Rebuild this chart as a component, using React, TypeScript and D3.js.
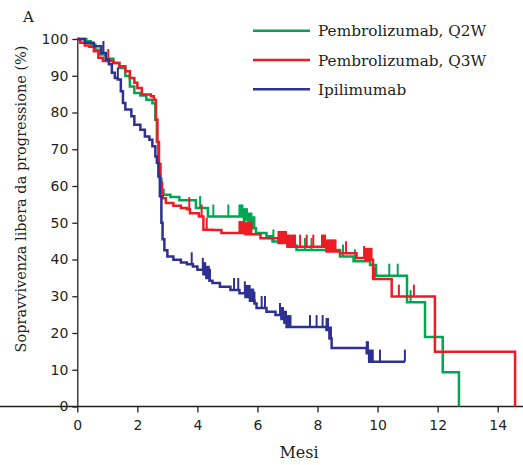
import React, { useEffect, useRef } from 'react';
import * as d3 from 'd3';

// Kaplan-Meier steps: [mese, sopravvivenza %]
const q2wSteps: [number, number][] = [
  [0, 100], [0.3, 99.4], [0.45, 98.5], [0.6, 97.1], [0.75, 95.8], [0.95, 94.6], [1.2, 93.5],
  [1.4, 92.1], [1.6, 89.9], [1.75, 87.1], [1.9, 85.3], [2.1, 84.6], [2.3, 83.5], [2.5, 82.5],
  [2.6, 78], [2.65, 72], [2.7, 66], [2.75, 62], [2.8, 59], [2.87, 57.6], [3.1, 57.0], [3.4, 56.1],
  [3.95, 54.0], [4.35, 51.7], [5.55, 50.7], [5.7, 49.5], [5.85, 48.5], [5.95, 47.2], [6.3, 46.3],
  [6.5, 44.9], [7.0, 43.8], [7.3, 42.6], [8.75, 40.8], [9.2, 39.5], [9.75, 38.5], [9.95, 35.6],
  [10.98, 28.4], [11.58, 18.9], [12.17, 9.3], [12.71, 0],
];
const q3wSteps: [number, number][] = [
  [0, 100], [0.05, 99.7], [0.1, 99.0], [0.25, 98.2], [0.4, 97.9], [0.55, 96.7], [0.7, 94.9],
  [0.85, 94.0], [1.2, 93.5], [1.4, 92.6], [1.6, 91.2], [1.75, 89.4], [1.9, 88.1], [2.0, 86.7],
  [2.15, 84.9], [2.45, 84.4], [2.55, 83.5], [2.62, 78], [2.67, 72], [2.72, 66], [2.77, 61],
  [2.82, 58], [2.85, 56.7], [2.95, 55.4], [3.2, 54.6], [3.45, 54.0], [3.65, 53.7], [3.75, 52.6],
  [4.05, 51.7], [4.2, 48.1], [4.5, 48.0], [4.8, 47.2], [5.6, 46.9], [6.1, 45.8], [6.7, 44.5],
  [7.0, 43.5], [8.3, 42.2], [8.75, 41.7], [9.3, 40.4], [9.6, 39.9], [9.85, 34.7], [10.47, 29.9],
  [11.91, 14.9], [14.58, 0],
];
const ipiSteps: [number, number][] = [
  [0, 100], [0.25, 99], [0.55, 98], [0.8, 96.2], [0.95, 94.4], [1.05, 93.1], [1.15, 90.8],
  [1.25, 89.4], [1.35, 89], [1.45, 85.8], [1.52, 82.6], [1.6, 80.8], [1.8, 79], [1.9, 76.7],
  [2.1, 75.3], [2.25, 73.5], [2.4, 72.6], [2.5, 70.8], [2.6, 68], [2.65, 66.3], [2.7, 62.6],
  [2.75, 57.2], [2.8, 50], [2.84, 45.5], [2.9, 42.5], [3.0, 40.8], [3.2, 39.9], [3.45, 39.2],
  [3.65, 38.7], [3.85, 38.1], [4.0, 37.2], [4.2, 36.0], [4.3, 35.0], [4.4, 34.2], [4.5, 33.6],
  [4.75, 32.6], [5.1, 31.7], [5.4, 30.8], [5.6, 29.8], [5.75, 28.8], [5.9, 28.0], [5.97, 26.8],
  [6.3, 25.8], [6.6, 24.9], [6.8, 23.8], [6.9, 22.8], [6.97, 21.6], [8.3, 20.8], [8.4, 18.5],
  [8.47, 15.9], [9.64, 14.5], [9.72, 12.2],
];

// last follow-up time of each arm
const q2wEnd = 12.71;
const q3wEnd = 14.58;
const ipiEnd = 10.91;

// censored patients (months)
const q2wCensor = [
  4.09, 4.53, 5.03, 5.4, 5.45, 5.5, 5.55, 5.6, 5.65, 5.7, 5.75, 5.8, 5.85, 5.9,
  6.53, 7.58, 7.8, 8.85, 9.25, 10.39, 10.67, 11.1,
];
const q3wCensor = [
  1.03, 3.73, 4.14, 4.31, 5.4, 5.45, 5.5, 5.55, 5.6, 5.65, 5.7, 5.75, 5.8,
  6.7, 6.75, 6.8, 6.85, 6.9, 6.95, 7.0, 7.05, 7.1, 7.15, 7.2, 7.25, 7.42, 7.64, 7.86,
  8.15, 8.2, 8.25, 8.3, 8.35, 8.4, 8.45, 8.5, 8.55, 8.6, 8.95,
  9.55, 9.6, 9.65, 9.7, 9.75, 9.8, 9.85, 9.9, 10.71, 11.21,
];
const ipiCensor = [
  0.87, 1.35, 3.81, 4.18, 4.22, 4.26, 4.3, 4.34, 4.38, 4.42, 5.22, 5.36,
  5.58, 5.62, 5.66, 5.7, 5.74, 5.78, 5.82, 5.86, 5.9, 6.14, 6.25,
  6.75, 6.8, 6.85, 6.9, 6.95, 7.0, 7.05, 7.1, 7.75, 7.97, 8.17,
  8.3, 8.35, 8.4, 8.45, 9.64, 9.68, 9.72, 9.76, 9.8, 9.84, 10.08, 10.91,
];

const seriesNames = ['Pembrolizumab, Q2W', 'Pembrolizumab, Q3W', 'Ipilimumab'];
const seriesColors = ['#00a651', '#ed1c24', '#2e3192'];
const xTicks = [0, 2, 4, 6, 8, 10, 12, 14];
const yTicks = [0, 10, 20, 30, 40, 50, 60, 70, 80, 90, 100];

const W = 523;
const H = 465;
const serif = "'DejaVu Serif', serif";
const sans = "'DejaVu Sans', sans-serif";

function valueAt(steps: [number, number][], t: number) {
  let v = steps[0][1];
  for (const s of steps) {
    if (s[0] <= t) v = s[1];
  }
  return v;
}

export default function App() {
  const ref = useRef<SVGSVGElement>(null);

  useEffect(() => {
    const svg = d3.select(ref.current);
    svg.selectAll('*').remove();

    const x = d3.scaleLinear().domain([0, 14.8]).range([77.3, 521.7]);
    const y = d3.scaleLinear().domain([0, 100]).range([406.5, 39]);

    // axes
    const xAxis = svg.append('g')
      .attr('transform', `translate(0,${y(0)})`)
      .call(d3.axisBottom(x).tickValues(xTicks).tickSize(6).tickPadding(8).tickSizeOuter(0));
    const yAxis = svg.append('g')
      .attr('transform', `translate(${x(0)},0)`)
      .call(d3.axisLeft(y).tickValues(yTicks).tickSize(5).tickPadding(4).tickSizeOuter(0));

    [xAxis, yAxis].forEach((g) => {
      g.selectAll('path, line').attr('stroke', '#231f20').attr('stroke-width', 1.3);
      g.selectAll('text').attr('font-family', sans).attr('font-size', 14).attr('fill', '#231f20');
    });
    xAxis.select('.domain').attr('d', `M${-5},0H${W}`);

    const arms = [
      { steps: q2wSteps, end: q2wEnd, censor: q2wCensor, color: seriesColors[0] },
      { steps: q3wSteps, end: q3wEnd, censor: q3wCensor, color: seriesColors[1] },
      { steps: ipiSteps, end: ipiEnd, censor: ipiCensor, color: seriesColors[2] },
    ];

    const line = d3.line<[number, number]>()
      .x((d) => x(d[0]))
      .y((d) => y(d[1]))
      .curve(d3.curveStepAfter);

    arms.forEach((arm) => {
      const last = arm.steps[arm.steps.length - 1];
      const pts = arm.steps.concat(last[0] < arm.end ? [[arm.end, last[1]] as [number, number]] : []);
      const g = svg.append('g');
      g.append('path')
        .attr('d', line(pts))
        .attr('fill', 'none')
        .attr('stroke', arm.color)
        .attr('stroke-width', 2.5);
      g.selectAll('line')
        .data(arm.censor)
        .enter()
        .append('line')
        .attr('x1', (t) => x(t))
        .attr('x2', (t) => x(t))
        .attr('y1', (t) => y(valueAt(arm.steps, t)))
        .attr('y2', (t) => y(valueAt(arm.steps, t)) - 12)
        .attr('stroke', arm.color)
        .attr('stroke-width', 2);
    });

    // legend
    const legend = svg.append('g');
    seriesNames.forEach((name, i) => {
      const ly = 30.7 + i * 29.3;
      legend.append('line')
        .attr('x1', 253).attr('x2', 310)
        .attr('y1', ly).attr('y2', ly)
        .attr('stroke', seriesColors[i])
        .attr('stroke-width', 2.6);
      legend.append('text')
        .attr('x', 318).attr('y', ly + 5.5)
        .attr('font-family', serif).attr('font-size', 15.3)
        .attr('fill', '#231f20')
        .text(name);
    });

    // titles
    svg.append('text')
      .attr('x', 299).attr('y', 458)
      .attr('text-anchor', 'middle')
      .attr('font-family', serif).attr('font-size', 16)
      .attr('fill', '#231f20')
      .text('Mesi');
    svg.append('text')
      .attr('transform', 'translate(26,199) rotate(-90)')
      .attr('text-anchor', 'middle')
      .attr('font-family', serif).attr('font-size', 14.5)
      .attr('fill', '#231f20')
      .text('Sopravvivenza libera da progressione (%)');
    svg.append('text')
      .attr('x', 23).attr('y', 21.5)
      .attr('font-family', serif).attr('font-size', 15)
      .attr('fill', '#231f20')
      .text('A');
  }, []);

  return (
    <svg
      ref={ref}
      width={W}
      height={H}
      style={{ position: 'absolute', left: 0, top: 0, background: '#fff' }}
    />
  );
}
